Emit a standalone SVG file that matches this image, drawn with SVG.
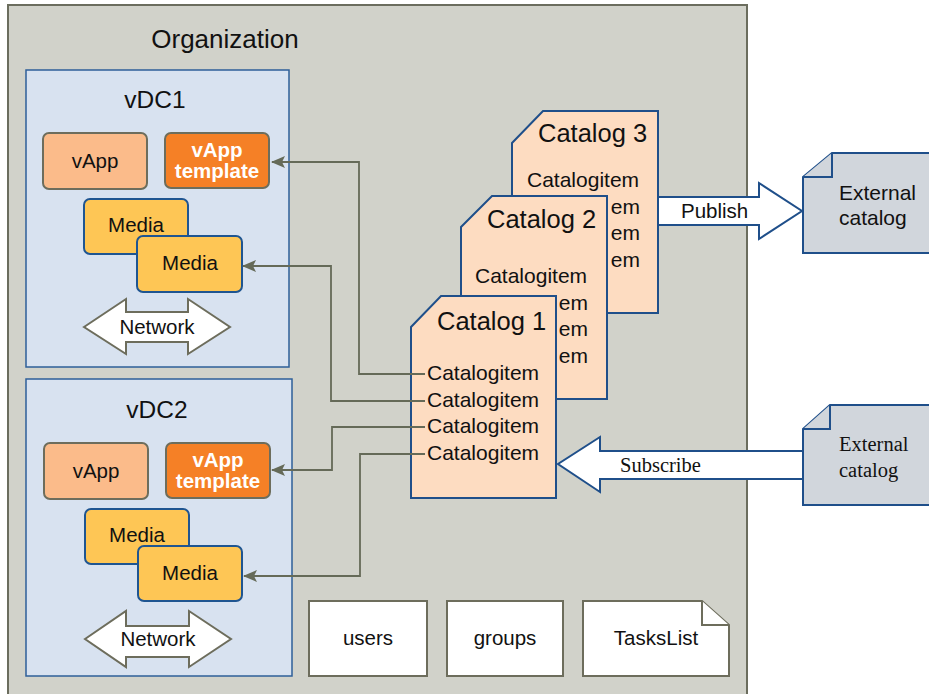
<svg xmlns="http://www.w3.org/2000/svg" width="929" height="694" viewBox="0 0 929 694">
<defs>
<style>
.sans{font-family:"Liberation Sans",Arial,sans-serif;fill:#111}
.serif{font-family:"Liberation Serif","Times New Roman",serif;fill:#111}
.org{fill:#d1d2ca;stroke:#6b6d5e;stroke-width:2}
.vdc{fill:#d8e2f0;stroke:#2e5f99;stroke-width:1.5}
.vapp{fill:#fbbb8a;stroke:#6d6d5c;stroke-width:2}
.tpl{fill:#f58026;stroke:#6d6d5c;stroke-width:2}
.media{fill:#fec655;stroke:#1f5591;stroke-width:2}
.net{fill:#fff;stroke:#6d6d5c;stroke-width:2}
.cat{fill:#fddcc1;stroke:#1f4f8a;stroke-width:2}
.ext{fill:#d1d6dc;stroke:#1f4f8a;stroke-width:2}
.bigarrow{fill:#fff;stroke:#1f4f8a;stroke-width:2}
.plain{fill:#fff;stroke:#6d6d5c;stroke-width:2}
.conn{fill:none;stroke:#656a58;stroke-width:1.8}
.t20{font-size:20.5px}
.t21{font-size:21px}
.t25{font-size:25.5px}
.tb{font-weight:bold;fill:#fff;font-size:20.5px}
</style>
<marker id="arr" viewBox="0 0 14 12" refX="13" refY="6" markerWidth="14" markerHeight="12" markerUnits="userSpaceOnUse" orient="auto">
<path d="M0,0 L14,6 L0,12 L3,6 Z" fill="#656a58"/>
</marker>
</defs>

<g id="organization">
<rect class="org" x="8" y="5" width="739" height="700"/>
<text class="sans" x="225" y="48" text-anchor="middle" font-size="26">Organization</text>
</g>

<g id="vdc1">
<rect class="vdc" x="26" y="70" width="263" height="297"/>
<text class="sans" x="155" y="108" text-anchor="middle" font-size="24.5">vDC1</text>
<g id="vdc1-vapp">
<rect class="vapp" x="43" y="133" width="104" height="56" rx="6"/>
<text class="sans t20" x="95" y="168" text-anchor="middle">vApp</text>
</g>
<g id="vdc1-template">
<rect class="tpl" x="165" y="133" width="104" height="55" rx="6"/>
<text class="sans tb" x="217" y="157" text-anchor="middle">vApp</text>
<text class="sans tb" x="217" y="178" text-anchor="middle">template</text>
</g>
<g id="vdc1-media1">
<rect class="media" x="84" y="199" width="104" height="55" rx="6"/>
<text class="sans t20" x="136" y="232" text-anchor="middle">Media</text>
</g>
<g id="vdc1-media2">
<rect class="media" x="137" y="236" width="105" height="56" rx="6"/>
<text class="sans t20" x="190" y="270" text-anchor="middle">Media</text>
</g>
<g id="vdc1-network">
<polygon class="net" points="84,327 126,299 126,312 188,312 188,299 230,327 188,354 188,342 126,342 126,354"/>
<text class="sans t20" x="157" y="334" text-anchor="middle">Network</text>
</g>
</g>

<g id="vdc2">
<rect class="vdc" x="26" y="379" width="266" height="297"/>
<text class="sans" x="157" y="418" text-anchor="middle" font-size="24.5">vDC2</text>
<g id="vdc2-vapp">
<rect class="vapp" x="44" y="443" width="104" height="56" rx="6"/>
<text class="sans t20" x="96" y="478" text-anchor="middle">vApp</text>
</g>
<g id="vdc2-template">
<rect class="tpl" x="166" y="443" width="104" height="55" rx="6"/>
<text class="sans tb" x="218" y="467" text-anchor="middle">vApp</text>
<text class="sans tb" x="218" y="488" text-anchor="middle">template</text>
</g>
<g id="vdc2-media1">
<rect class="media" x="85" y="509" width="104" height="55" rx="6"/>
<text class="sans t20" x="137" y="542" text-anchor="middle">Media</text>
</g>
<g id="vdc2-media2">
<rect class="media" x="138" y="546" width="104" height="55" rx="6"/>
<text class="sans t20" x="190" y="580" text-anchor="middle">Media</text>
</g>
<g id="vdc2-network">
<polygon class="net" points="85,639 126,611 126,626 189,626 189,611 231,639 189,667 189,657 126,657 126,667"/>
<text class="sans t20" x="158" y="646" text-anchor="middle">Network</text>
</g>
</g>

<g id="users">
<rect class="plain" x="309" y="601" width="118" height="75"/>
<text class="sans t20" x="368" y="645" text-anchor="middle">users</text>
</g>
<g id="groups">
<rect class="plain" x="447" y="601" width="116" height="75"/>
<text class="sans t20" x="505" y="645" text-anchor="middle">groups</text>
</g>
<g id="taskslist">
<path class="plain" d="M583,601 H702 L729,625 V676 H583 Z"/>
<path class="plain" d="M702,601 V625 H729" fill="none"/>
<text class="sans t20" x="656" y="645" text-anchor="middle">TasksList</text>
</g>

<g id="catalog3">
<path class="cat" d="M512,143 L543,111 H658 V313 H512 Z"/>
<text class="sans t25" x="538" y="142">Catalog 3</text>
<text class="sans t21" x="527" y="187">Catalogitem</text>
<text class="sans t21" x="640" y="214" text-anchor="end">em</text>
<text class="sans t21" x="640" y="240" text-anchor="end">em</text>
<text class="sans t21" x="640" y="267" text-anchor="end">em</text>
</g>
<g id="catalog2">
<path class="cat" d="M461,227 L492,196 H607 V399 H461 Z"/>
<text class="sans t25" x="487" y="228">Catalog 2</text>
<text class="sans t21" x="475" y="283">Catalogitem</text>
<text class="sans t21" x="588" y="310" text-anchor="end">em</text>
<text class="sans t21" x="588" y="336" text-anchor="end">em</text>
<text class="sans t21" x="588" y="363" text-anchor="end">em</text>
</g>
<g id="catalog1">
<path class="cat" d="M411,327 L441,296 H556 V498 H411 Z"/>
<text class="sans t25" x="437" y="330">Catalog 1</text>
<text class="sans t21" x="427" y="380">Catalogitem</text>
<text class="sans t21" x="427" y="407">Catalogitem</text>
<text class="sans t21" x="427" y="433">Catalogitem</text>
<text class="sans t21" x="427" y="460">Catalogitem</text>
</g>

<g id="external1">
<path class="ext" d="M803,177 L832,153 H940 V253 H803 Z"/>
<path class="ext" d="M832,153 V177 H803" fill="none"/>
<text class="sans t21" x="839" y="200">External</text>
<text class="sans t21" x="839" y="225">catalog</text>
</g>
<g id="external2">
<path class="ext" d="M803,429 L830,405 H940 V505 H803 Z"/>
<path class="ext" d="M830,405 V429 H803" fill="none"/>
<text class="serif t20" x="839" y="451">External</text>
<text class="serif t20" x="839" y="477">catalog</text>
</g>

<g id="connectors">
<g id="publish">
<polygon class="bigarrow" points="658,197 759,197 759,183 802,211 759,239 759,225 658,225"/>
<text class="sans t20" x="681" y="218">Publish</text>
</g>
<g id="subscribe">
<polygon class="bigarrow" points="803,451 600,451 600,437 558,464 600,492 600,479 803,479"/>
<text class="serif t20" x="620" y="472">Subscribe</text>
</g>
<path class="conn" d="M425,374 H359 V162 H272" marker-end="url(#arr)"/>
<path class="conn" d="M425,401 H331 V266 H243" marker-end="url(#arr)"/>
<path class="conn" d="M425,427 H332 V470 H272" marker-end="url(#arr)"/>
<path class="conn" d="M425,454 H360 V576 H244" marker-end="url(#arr)"/>
</g>
</svg>
